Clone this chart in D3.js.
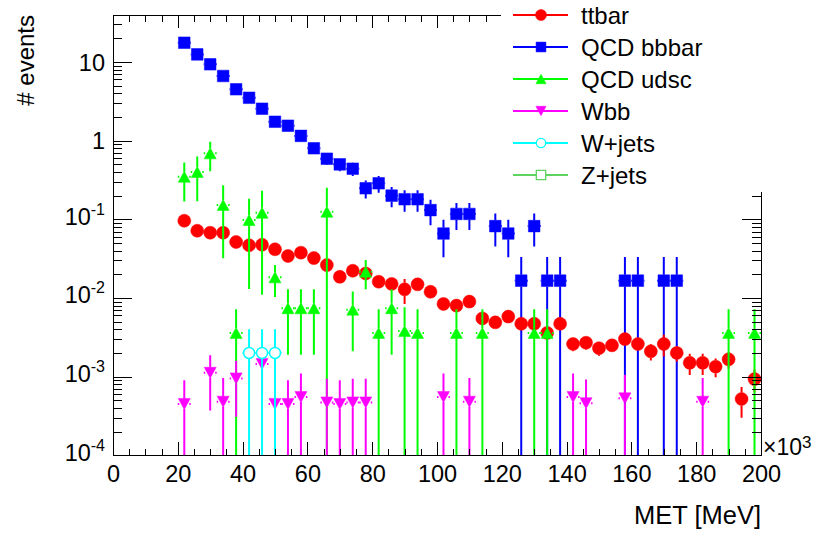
<!DOCTYPE html>
<html>
<head>
<meta charset="utf-8">
<title>MET</title>
<script src="https://cdnjs.cloudflare.com/ajax/libs/d3/7.8.5/d3.min.js"></script>
<style>
  body { margin: 0; background: #ffffff; }
  #ChartContainer svg { display: block; }
</style>
</head>
<body>
<div id="ChartContainer"></div>
<script>
// MET histograms, bins of 4 (x10^3 MeV), only filled range 20..200
var binWidth = 4
var binCenters = [22, 26, 30, 34, 38, 42, 46, 50, 54, 58, 62, 66, 70, 74, 78,
  82, 86, 90, 94, 98, 102, 106, 110, 114, 118, 122, 126, 130, 134, 138,
  142, 146, 150, 154, 158, 162, 166, 170, 174, 178, 182, 186, 190, 194, 198]

var ttbarValues = [0.096, 0.0716, 0.0676, 0.0676, 0.0515, 0.0468, 0.0475, 0.0416, 0.0342, 0.0377, 0.0322, 0.0262, 0.0186, 0.0222, 0.0205,
  0.0161, 0.0151, 0.0129, 0.0149, 0.0120, 0.0084, 0.0080, 0.0090, 0.0055, 0.0049, 0.0058, 0.0047, 0.0047, 0.0036, 0.0047,
  0.0026, 0.0027, 0.0023, 0.0025, 0.0030, 0.0026, 0.0021, 0.0026, 0.0020, 0.0015, 0.0015, 0.00134, 0.00166, 0.00052, 0.00093]
var ttbarErrors = [0.0027, 0.0022, 0.0022, 0.0022, 0.0019, 0.0018, 0.0018, 0.0017, 0.0015, 0.0016, 0.0015, 0.0014, 0.0011, 0.0012, 0.0012,
  0.0011, 0.0010, 0.0045, 0.0010, 0.0009, 0.0008, 0.0008, 0.0008, 0.0006, 0.0006, 0.0006, 0.0006, 0.0006, 0.0005, 0.0006,
  0.0005, 0.0005, 0.00045, 0.00045, 0.0005, 0.00045, 0.0005, 0.0008, 0.00045, 0.00045, 0.00045, 0.00036, 0.0004, 0.00022, 0.0003]

var bbbarValues = [17.6, 12.5, 9.35, 6.64, 4.5, 3.51, 2.55, 1.74, 1.55, 1.15, 0.80, 0.59, 0.50, 0.44, 0.248,
  0.287, 0.20, 0.18, 0.18, 0.131, 0.066, 0.117, 0.117, null, 0.082, 0.066, 0.0166, 0.082, 0.0166, 0.0166,
  null, null, null, null, 0.0166, 0.0166, null, 0.0166, 0.0166, null, null, null, null, null, null]
var bbbarErrors = [0.54, 0.456, 0.394, 0.332, 0.273, 0.241, 0.206, 0.170, 0.160, 0.138, 0.115, 0.099, 0.091, 0.085, 0.064,
  0.069, 0.058, 0.055, 0.055, 0.047, 0.033, 0.044, 0.044, null, 0.037, 0.033, 0.0166, 0.037, 0.0166, 0.0166,
  null, null, null, null, 0.0166, 0.0166, null, 0.0166, 0.0166, null, null, null, null, null, null]

var udscValues = [0.348, 0.40, 0.69, 0.152, 0.0036, 0.098, 0.121, 0.0183, 0.0074, 0.0074, 0.0074, 0.125, null, 0.0071, 0.0216,
  0.0036, 0.0074, 0.0038, 0.0036, null, null, 0.0036, null, 0.0036, null, null, null, 0.0036, 0.0036, null,
  null, null, null, null, null, null, null, null, null, null, null, null, 0.0036, null, 0.0036]
var udscErrors = [0.18, 0.23, 0.28, 0.12, 0.0036, 0.085, 0.11, 0.008, 0.0055, 0.0055, 0.0055, 0.127, null, 0.005, 0.0087,
  0.0036, 0.0055, 0.0038, 0.0036, null, null, 0.0036, null, 0.0036, null, null, null, 0.0036, 0.0036, null,
  null, null, null, null, null, null, null, null, null, null, null, null, 0.0036, null, 0.0036]

var wbbValues = [0.00045, null, 0.00112, 0.00048, 0.00095, null, 0.00145, 0.00045, 0.00045, 0.00055, null, 0.00047, 0.00045, 0.00047, 0.00047,
  null, null, null, null, null, 0.00055, null, 0.00048, null, null, null, null, null, null, null,
  0.00055, 0.00046, null, null, 0.00053, null, null, null, null, null, 0.00048, null, null, null, null]
var wbbErrors = [0.00045, null, 0.00075, 0.00048, 0.00064, null, 0.00085, 0.00045, 0.00045, 0.00055, null, 0.00047, 0.00045, 0.00047, 0.00047,
  null, null, null, null, null, 0.00055, null, 0.00048, null, null, null, null, null, null, null,
  0.00055, 0.00046, null, null, 0.00053, null, null, null, null, null, 0.00048, null, null, null, null]

var wjetsValues = [null, null, null, null, null, 0.002, 0.002, 0.002, null, null, null, null, null, null, null,
  null, null, null, null, null, null, null, null, null, null, null, null, null, null, null,
  null, null, null, null, null, null, null, null, null, null, null, null, null, null, null]
var wjetsErrors = [null, null, null, null, null, 0.002, 0.002, 0.002, null, null, null, null, null, null, null,
  null, null, null, null, null, null, null, null, null, null, null, null, null, null, null,
  null, null, null, null, null, null, null, null, null, null, null, null, null, null, null]

// Z+jets has no entries in the visible range
var zjetsValues = []
var zjetsErrors = []

var sampleNames = ["ttbar", "QCD bbbar", "QCD udsc", "Wbb", "W+jets", "Z+jets"]

var xTickValues = [0, 20, 40, 60, 80, 100, 120, 140, 160, 180, 200]
var xTickLabels = ["0", "20", "40", "60", "80", "100", "120", "140", "160", "180", "200"]
var yTickValues = [1e-4, 1e-3, 1e-2, 1e-1, 1, 10]
var yTickLabels = [["10", "-4"], ["10", "-3"], ["10", "-2"], ["10", "-1"], ["1", ""], ["10", ""]]

// styles, kept apart from the data
var sampleStyles = [
  { color: "#ff0000", marker: "circle", gap: 6.5 },
  { color: "#0000ff", marker: "square", gap: 5.8 },
  { color: "#00ff00", marker: "triangleUp", gap: 5 },
  { color: "#ff00ff", marker: "triangleDown", gap: 5 },
  { color: "#00ffff", marker: "openCircle", gap: 5.5 },
  { color: "#5fd35f", marker: "openSquare", gap: 5.5 },
]

var samples = [
  { values: ttbarValues, errors: ttbarErrors },
  { values: bbbarValues, errors: bbbarErrors },
  { values: udscValues, errors: udscErrors },
  { values: wbbValues, errors: wbbErrors },
  { values: wjetsValues, errors: wjetsErrors },
  { values: zjetsValues, errors: zjetsErrors },
].map((s, i) => Object.assign(s, { name: sampleNames[i], style: sampleStyles[i] }))

// order in which the histograms were drawn on the canvas
var drawOrder = [1, 0, 2, 3, 4, 5]

var fontFamily = '"Liberation Sans", Arial, Helvetica, sans-serif'
var fullWidth = 818
var fullHeight = 536
var plot = { left: 113, right: 761, top: 15, bottom: 455.3 }

var x = d3.scaleLinear()
  .domain([0, 200])
  .range([plot.left, plot.right])
var y = d3.scaleLog()
  .domain([1e-4, 39.6])
  .range([plot.bottom, plot.top])

function markerPath(type, k) {
  var p = d3.path()
  if (type === "circle" || type === "openCircle") {
    var r = (type === "circle" ? 6.5 : 5.5) * k
    p.moveTo(r, 0)
    p.arc(0, 0, r, 0, 2 * Math.PI)
  } else if (type === "square") {
    var h = 5.8 * k
    p.rect(-h, -h, 2 * h, 2 * h)
  } else if (type === "openSquare") {
    var h2 = 5.5 * k
    p.rect(-h2, -h2, 2 * h2, 2 * h2)
  } else if (type === "triangleUp") {
    p.moveTo(-6 * k, 5.5 * k); p.lineTo(6 * k, 5.5 * k); p.lineTo(0, -5.5 * k); p.closePath()
  } else if (type === "triangleDown") {
    p.moveTo(-6 * k, -5.5 * k); p.lineTo(6 * k, -5.5 * k); p.lineTo(0, 5.5 * k); p.closePath()
  }
  return p.toString()
}

function isOpen(type) {
  return type === "openCircle" || type === "openSquare"
}

var svg = d3.select("#ChartContainer").append("svg")
  .attr("width", fullWidth)
  .attr("height", fullHeight)
  .style("font-family", fontFamily)

svg.append("rect")
  .attr("width", fullWidth)
  .attr("height", fullHeight)
  .attr("fill", "#ffffff")

svg.append("clipPath")
  .attr("id", "PlotClip")
  .append("rect")
  .attr("x", plot.left)
  .attr("y", plot.top)
  .attr("width", plot.right - plot.left)
  .attr("height", plot.bottom - plot.top)

// Data
var dataLayer = svg.append("g").attr("clip-path", "url(#PlotClip)")

drawOrder.forEach(idx => {
  var s = samples[idx]
  var gap = s.style.gap
  var pts = binCenters.map((m, i) => ({ met: m, value: s.values[i], error: s.errors[i] }))
    .filter(d => d.value != null)

  var g = dataLayer.append("g")
  var bars = g.append("g")
    .attr("stroke", s.style.color)
    .attr("stroke-width", 2)

  // vertical error bars, leaving a gap where the marker sits
  bars.selectAll(".ErrUp")
    .data(pts)
    .enter().append("line")
    .attr("x1", d => x(d.met))
    .attr("x2", d => x(d.met))
    .attr("y1", d => y(d.value) - gap)
    .attr("y2", d => Math.min(y(d.value + d.error), y(d.value) - gap))

  bars.selectAll(".ErrDown")
    .data(pts)
    .enter().append("line")
    .attr("x1", d => x(d.met))
    .attr("x2", d => x(d.met))
    .attr("y1", d => y(d.value) + gap)
    .attr("y2", d => d.value - d.error > 0
      ? Math.max(y(d.value - d.error), y(d.value) + gap)
      : plot.bottom + 10)

  // horizontal bin-width bars
  bars.selectAll(".ErrLeft")
    .data(pts.filter(d => x(d.met) - x(d.met - binWidth / 2) > gap))
    .enter().append("line")
    .attr("x1", d => x(d.met - binWidth / 2))
    .attr("x2", d => x(d.met) - gap)
    .attr("y1", d => y(d.value))
    .attr("y2", d => y(d.value))

  bars.selectAll(".ErrRight")
    .data(pts.filter(d => x(d.met + binWidth / 2) - x(d.met) > gap))
    .enter().append("line")
    .attr("x1", d => x(d.met) + gap)
    .attr("x2", d => x(d.met + binWidth / 2))
    .attr("y1", d => y(d.value))
    .attr("y2", d => y(d.value))

  g.selectAll(".Marker")
    .data(pts)
    .enter().append("path")
    .attr("transform", d => `translate(${x(d.met)},${y(d.value)})`)
    .attr("d", markerPath(s.style.marker, 1))
    .attr("fill", isOpen(s.style.marker) ? "#ffffff" : s.style.color)
    .attr("stroke", s.style.color)
    .attr("stroke-width", isOpen(s.style.marker) ? 1.5 : 0.5)
})

// Axes (ROOT style: ticks inside on all four sides)
var minorX = d3.range(0, 201, 5)
var minorY = y.ticks().filter(v => yTickValues.indexOf(v) < 0)

function styleAxis(sel) {
  sel.select(".domain").remove()
  sel.selectAll(".tick line").attr("stroke", "#000").attr("shape-rendering", "crispEdges")
  sel.selectAll("text").attr("font-family", fontFamily).attr("fill", "#000")
}

svg.append("g")
  .attr("transform", `translate(0,${plot.bottom})`)
  .call(d3.axisBottom(x).tickValues(minorX).tickSize(-6.5).tickFormat(""))
  .call(styleAxis)

svg.append("g")
  .attr("transform", `translate(0,${plot.bottom})`)
  .call(d3.axisBottom(x).tickValues(xTickValues).tickSize(-13).tickPadding(10.5)
    .tickFormat((d, i) => xTickLabels[i]))
  .call(styleAxis)
  .attr("font-size", 23.5)

svg.append("g")
  .attr("transform", `translate(0,${plot.top})`)
  .call(d3.axisTop(x).tickValues(minorX).tickSize(-6.5).tickFormat(""))
  .call(styleAxis)
svg.append("g")
  .attr("transform", `translate(0,${plot.top})`)
  .call(d3.axisTop(x).tickValues(xTickValues).tickSize(-13).tickFormat(""))
  .call(styleAxis)

svg.append("g")
  .attr("transform", `translate(${plot.left},0)`)
  .call(d3.axisLeft(y).tickValues(minorY).tickSize(-9).tickFormat(""))
  .call(styleAxis)

var yAxis = svg.append("g")
  .attr("transform", `translate(${plot.left},0)`)
  .call(d3.axisLeft(y).tickValues(yTickValues).tickSize(-19).tickPadding(8).tickFormat(""))
  .call(styleAxis)

// y tick labels with superscript exponents
yAxis.selectAll(".tick text").each(function (d, i) {
  var lab = yTickLabels[i]
  var t = d3.select(this)
    .attr("font-size", 23.5)
    .attr("dy", lab[1] === "" ? "0.34em" : "0.2em")
  t.append("tspan").text(lab[0])
  if (lab[1] !== "") {
    t.append("tspan")
      .attr("font-size", 16)
      .attr("dy", -10)
      .text(lab[1])
  }
})

svg.append("g")
  .attr("transform", `translate(${plot.right},0)`)
  .call(d3.axisRight(y).tickValues(minorY).tickSize(-9).tickFormat(""))
  .call(styleAxis)
svg.append("g")
  .attr("transform", `translate(${plot.right},0)`)
  .call(d3.axisRight(y).tickValues(yTickValues).tickSize(-19).tickFormat(""))
  .call(styleAxis)

// Frame
svg.append("rect")
  .attr("x", plot.left + 0.5)
  .attr("y", plot.top + 0.5)
  .attr("width", plot.right - plot.left)
  .attr("height", plot.bottom - plot.top)
  .attr("fill", "none")
  .attr("stroke", "#000")
  .attr("stroke-width", 1)
  .attr("shape-rendering", "crispEdges")

// x10^3 multiplier
var mult = svg.append("text")
  .attr("x", 763)
  .attr("y", 455)
  .attr("font-size", 23)
mult.append("tspan").text("\u00d710")
mult.append("tspan").attr("font-size", 17).attr("dy", -7).text("3")

// Axis titles
svg.append("text")
  .attr("x", plot.right)
  .attr("y", 524)
  .attr("text-anchor", "end")
  .attr("font-size", 25.5)
  .text("MET [MeV]")

svg.append("text")
  .attr("transform", `translate(34,${plot.top}) rotate(-90)`)
  .attr("text-anchor", "end")
  .attr("font-size", 24)
  .text("# events")

// Legend (white box, no border, covers the top-right corner of the frame)
var legend = svg.append("g")
legend.append("rect")
  .attr("x", 501)
  .attr("y", 0)
  .attr("width", fullWidth - 501)
  .attr("height", 192)
  .attr("fill", "#ffffff")

samples.forEach((s, i) => {
  var rowY = 15 + i * 32
  legend.append("line")
    .attr("x1", 513)
    .attr("x2", 568)
    .attr("y1", rowY)
    .attr("y2", rowY)
    .attr("stroke", s.style.color)
    .attr("stroke-width", 2)
  legend.append("path")
    .attr("transform", `translate(541,${rowY})`)
    .attr("d", markerPath(s.style.marker, 0.85))
    .attr("fill", isOpen(s.style.marker) ? "#ffffff" : s.style.color)
    .attr("stroke", s.style.color)
    .attr("stroke-width", isOpen(s.style.marker) ? 1.3 : 0.5)
  legend.append("text")
    .attr("x", 581)
    .attr("y", rowY + 8.5)
    .attr("font-size", 24)
    .text(s.name)
})
</script>
</body>
</html>
